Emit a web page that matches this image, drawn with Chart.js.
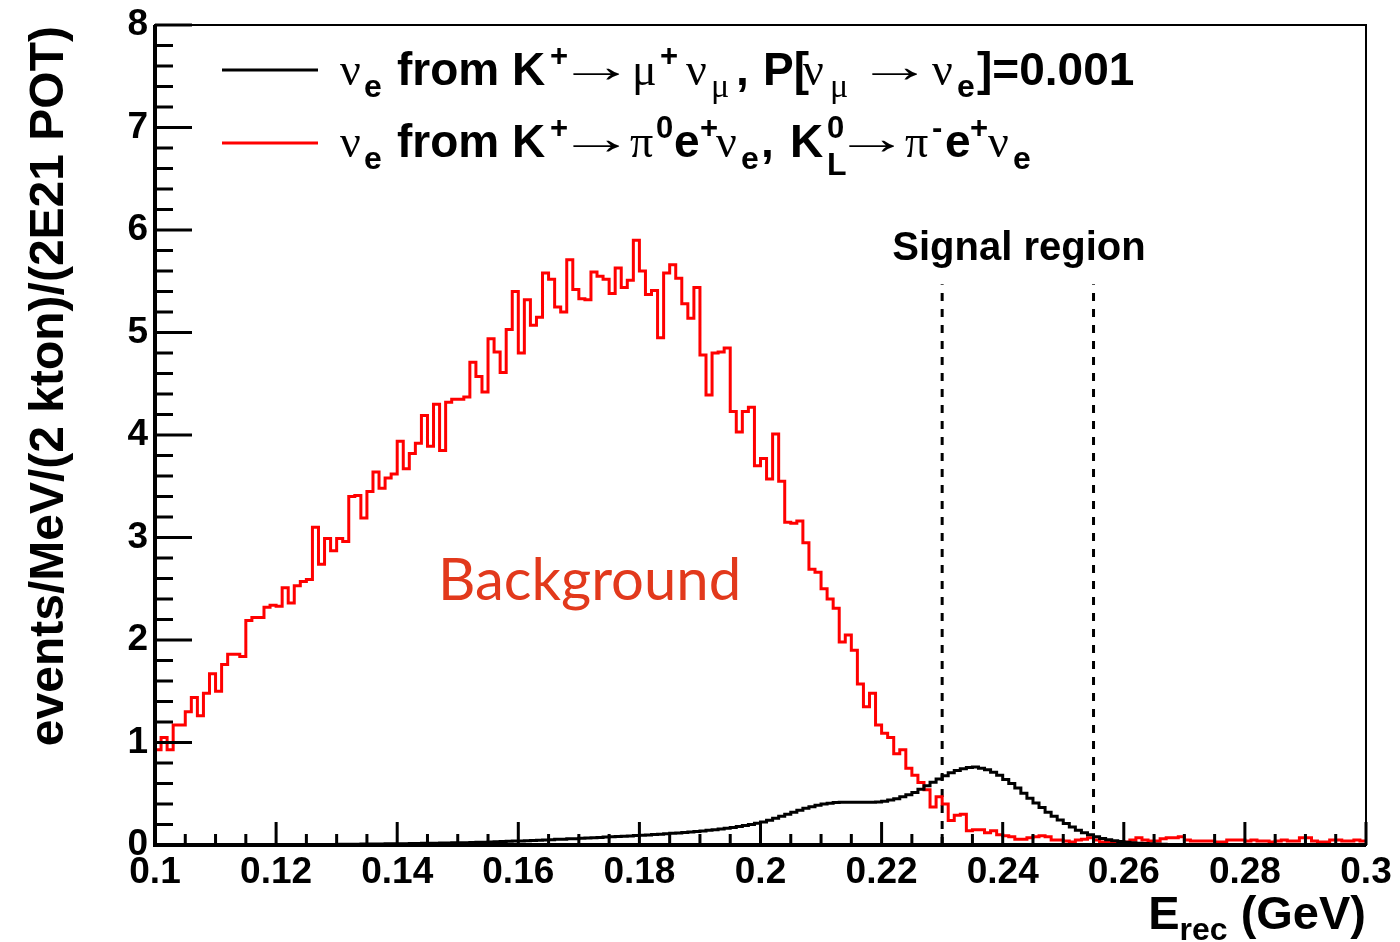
<!DOCTYPE html>
<html>
<head>
<meta charset="utf-8">
<script src="https://cdn.jsdelivr.net/npm/chart.js@4.4.0/dist/chart.umd.min.js"></script>
<style>
  html, body { margin: 0; padding: 0; background: #fff; }
</style>
</head>
<body>
<canvas id="erec" width="1400" height="942"></canvas>
<script>
// histogram binning: 1 MeV bins from 0.1 to 0.3 GeV
const binLow = 0.1;
const binWidth = 0.001;

// nu_e from K+ -> pi0 e+ nu_e, K0L -> pi- e+ nu_e (background, red)
const bkg_bins = [
  0.93, 1.05, 0.93, 1.17, 1.17, 1.30, 1.44, 1.26, 1.48, 1.67,
  1.50, 1.76, 1.86, 1.86, 1.84, 2.19, 2.22, 2.22, 2.32, 2.34,
  2.33, 2.51, 2.36, 2.53, 2.57, 2.59, 3.10, 2.74, 2.99, 2.87,
  2.99, 2.96, 3.40, 3.41, 3.19, 3.45, 3.64, 3.48, 3.58, 3.62,
  3.94, 3.67, 3.82, 3.92, 4.19, 3.89, 4.30, 3.85, 4.32, 4.35,
  4.35, 4.37, 4.71, 4.57, 4.42, 4.94, 4.81, 4.61, 5.03, 5.40,
  4.80, 5.32, 5.07, 5.15, 5.58, 5.52, 5.25, 5.20, 5.71, 5.42,
  5.33, 5.32, 5.59, 5.55, 5.52, 5.38, 5.63, 5.44, 5.51, 5.90,
  5.60, 5.37, 5.41, 4.95, 5.58, 5.66, 5.53, 5.28, 5.14, 5.44,
  4.78, 4.39, 4.80, 4.81, 4.85, 4.23, 4.03, 4.23, 4.27, 3.70,
  3.77, 3.57, 4.01, 3.55, 3.15, 3.14, 3.16, 2.95, 2.69, 2.66,
  2.50, 2.40, 2.31, 1.98, 2.05, 1.90, 1.57, 1.35, 1.48, 1.17,
  1.09, 1.05, 0.89, 0.93, 0.75, 0.68, 0.61, 0.54, 0.37, 0.47,
  0.40, 0.24, 0.29, 0.30, 0.14, 0.15, 0.15, 0.12, 0.14, 0.10,
  0.09, 0.08, 0.055, 0.055, 0.07, 0.08, 0.09, 0.08, 0.05, 0.05,
  0.04, 0.03, 0.05, 0.055, 0.07, 0.05, 0.03, 0.03, 0.03, 0.03,
  0.03, 0.05, 0.07, 0.05, 0.04, 0.04, 0.06, 0.07, 0.07, 0.08,
  0.05, 0.04, 0.04, 0.04, 0.04, 0.03, 0.03, 0.05, 0.05, 0.05,
  0.04, 0.05, 0.04, 0.04, 0.03, 0.04, 0.05, 0.04, 0.04, 0.07,
  0.07, 0.04, 0.03, 0.03, 0.05, 0.05, 0.04, 0.04, 0.05, 0.04
];

// nu_e from K+ -> mu+ nu_mu with P[numu -> nue] = 0.001 (signal, black)
const sig_bins = [
  0, 0, 0, 0, 0, 0, 0, 0, 0, 0,
  0.001, 0.001, 0.001, 0.001, 0.001, 0.002, 0.002, 0.002, 0.002, 0.003,
  0.003, 0.003, 0.004, 0.004, 0.004, 0.005, 0.005, 0.005, 0.006, 0.006,
  0.007, 0.007, 0.008, 0.008, 0.009, 0.009, 0.010, 0.010, 0.011, 0.012,
  0.012, 0.013, 0.014, 0.015, 0.016, 0.017, 0.018, 0.019, 0.020, 0.021,
  0.022, 0.023, 0.024, 0.026, 0.028, 0.030, 0.032, 0.034, 0.036, 0.038,
  0.040, 0.042, 0.045, 0.047, 0.050, 0.052, 0.055, 0.057, 0.060, 0.062,
  0.065, 0.068, 0.071, 0.074, 0.077, 0.080, 0.083, 0.086, 0.089, 0.092,
  0.095, 0.098, 0.102, 0.106, 0.110, 0.114, 0.118, 0.122, 0.127, 0.132,
  0.137, 0.143, 0.149, 0.156, 0.163, 0.171, 0.180, 0.190, 0.200, 0.212,
  0.225, 0.242, 0.260, 0.280, 0.300, 0.320, 0.340, 0.358, 0.374, 0.388,
  0.400, 0.408, 0.414, 0.417, 0.418, 0.418, 0.417, 0.416, 0.416, 0.419,
  0.428, 0.438, 0.452, 0.470, 0.490, 0.512, 0.545, 0.578, 0.612, 0.645,
  0.675, 0.705, 0.728, 0.745, 0.757, 0.760, 0.750, 0.735, 0.710, 0.680,
  0.640, 0.600, 0.555, 0.505, 0.455, 0.410, 0.365, 0.320, 0.280, 0.245,
  0.210, 0.175, 0.145, 0.120, 0.100, 0.080, 0.064, 0.052, 0.042, 0.034,
  0.027, 0.022, 0.018, 0.014, 0.011, 0.009, 0.007, 0.006, 0.005, 0.004,
  0.003, 0.003, 0.002, 0.002, 0.002, 0.001, 0.001, 0.001, 0.001, 0.001,
  0.001, 0.001, 0.001, 0.001, 0.001, 0.001, 0.001, 0.001, 0.001, 0.001,
  0, 0, 0, 0, 0, 0, 0, 0, 0, 0
];

// signal region edges (GeV) and how high the dashed markers go
const signal_edges = [0.23, 0.255];
const signal_top = 5.47;

// axis ranges and tick spacing
const x_range = [0.1, 0.3];
const y_range = [0, 8];
const x_major = 0.02, x_minor = 0.005;
const y_major = 1, y_minor = 0.2;

function histPoints(vals) {
  // one point per bin low edge, plus the upper edge of the last bin
  const pts = vals.map((v, i) => ({ x: binLow + i * binWidth, y: v }));
  pts.push({ x: binLow + vals.length * binWidth, y: vals[vals.length - 1] });
  return pts;
}

const BOLD = '"Liberation Sans", Arial, Helvetica, sans-serif';
const SERIF = '"Liberation Serif", "Times New Roman", serif';

const fB = 'bold 46px ' + BOLD;
const fG = '46px ' + SERIF;
const fSupB = 'bold 31px ' + BOLD;
const fSubB = 'bold 32px ' + BOLD;
const fSubG = '34px ' + SERIF;
const fArrow = '46px ' + SERIF;
const SUB = 12, SUP = -19;

// legend pieces placed at the x they sit at in the original
const legendLine1 = [
  { x: 340, t: '\u03BD', f: fG }, { x: 364, t: 'e', f: fSubB, dy: SUB },
  { x: 397, t: 'from K', f: fB }, { x: 550, t: '+', f: fSupB, dy: SUP },
  { x: 573, t: '\u2192', f: fArrow, w: 47, dy: -3 },
  { x: 632, t: '\u03BC', f: fG }, { x: 660, t: '+', f: fSupB, dy: SUP },
  { x: 686, t: '\u03BD', f: fG }, { x: 711, t: '\u03BC', f: fSubG, dy: SUB },
  { x: 736, t: ',', f: fB }, { x: 763, t: 'P[', f: fB },
  { x: 803, t: '\u03BD', f: fG }, { x: 830, t: '\u03BC', f: fSubG, dy: SUB },
  { x: 872, t: '\u2192', f: fArrow, w: 46, dy: -3 },
  { x: 932, t: '\u03BD', f: fG }, { x: 957, t: 'e', f: fSubB, dy: SUB },
  { x: 977, t: ']=0.001', f: fB }
];
const legendLine2 = [
  { x: 340, t: '\u03BD', f: fG }, { x: 364, t: 'e', f: fSubB, dy: SUB },
  { x: 397, t: 'from K', f: fB }, { x: 550, t: '+', f: fSupB, dy: SUP },
  { x: 573, t: '\u2192', f: fArrow, w: 47, dy: -3 },
  { x: 630, t: '\u03C0', f: fG }, { x: 656, t: '0', f: fSupB, dy: SUP },
  { x: 674, t: 'e', f: fB }, { x: 700, t: '+', f: fSupB, dy: SUP },
  { x: 716, t: '\u03BD', f: fG }, { x: 741, t: 'e', f: fSubB, dy: SUB },
  { x: 761, t: ',', f: fB }, { x: 790, t: 'K', f: fB },
  { x: 827, t: '0', f: fSupB, dy: SUP }, { x: 827, t: 'L', f: fSubB, dy: SUB + 6 },
  { x: 849, t: '\u2192', f: fArrow, w: 46, dy: -3 },
  { x: 905, t: '\u03C0', f: fG }, { x: 932, t: '-', f: fSupB, dy: SUP },
  { x: 945, t: 'e', f: fB }, { x: 970, t: '+', f: fSupB, dy: SUP },
  { x: 988, t: '\u03BD', f: fG }, { x: 1013, t: 'e', f: fSubB, dy: SUB }
];

function drawPieces(ctx, baseline, pieces) {
  pieces.forEach(p => {
    ctx.font = p.f;
    const y0 = baseline + (p.dy || 0);
    if (p.w) {
      // stretch the arrow ink to the long ROOT arrow
      const m = ctx.measureText(p.t);
      const inkL = m.actualBoundingBoxLeft || 0;
      const inkW = (m.actualBoundingBoxRight || m.width) + inkL;
      const sx = p.w / inkW;
      ctx.save();
      ctx.translate(p.x + inkL * sx, y0);
      ctx.scale(sx, 1);
      ctx.fillText(p.t, 0, 0);
      ctx.restore();
    } else {
      ctx.fillText(p.t, p.x, y0);
    }
  });
}

const rootFrame = {
  id: 'rootFrame',
  afterDatasetsDraw(chart) {
    const { ctx, chartArea: a, scales: { x, y } } = chart;
    ctx.save();
    ctx.strokeStyle = '#000';
    ctx.lineWidth = 3;
    ctx.beginPath();
    const nx = Math.round((x_range[1] - x_range[0]) / x_minor);
    for (let i = 0; i <= nx; i++) {
      const px = x.getPixelForValue(x_range[0] + i * x_minor);
      const len = (i % Math.round(x_major / x_minor) === 0) ? 23 : 11;
      ctx.moveTo(px, a.bottom);
      ctx.lineTo(px, a.bottom - len);
    }
    const ny = Math.round((y_range[1] - y_range[0]) / y_minor);
    for (let i = 0; i <= ny; i++) {
      const py = y.getPixelForValue(y_range[0] + i * y_minor);
      const len = (i % Math.round(y_major / y_minor) === 0) ? 37 : 18;
      ctx.moveTo(a.left, py);
      ctx.lineTo(a.left + len, py);
    }
    ctx.stroke();
    // frame box
    ctx.lineWidth = 2;
    ctx.strokeRect(a.left, a.top, a.right - a.left, a.bottom - a.top);
    ctx.lineWidth = 4;
    ctx.beginPath();
    ctx.moveTo(a.left, a.top);
    ctx.lineTo(a.left, a.bottom);
    ctx.lineTo(a.right, a.bottom);
    ctx.stroke();
    ctx.restore();
  },
  afterDraw(chart) {
    const { ctx, chartArea: a } = chart;
    ctx.save();
    ctx.fillStyle = '#000';
    ctx.textBaseline = 'alphabetic';
    ctx.textAlign = 'left';

    // legend
    ctx.lineWidth = 3;
    ctx.strokeStyle = '#000';
    ctx.beginPath(); ctx.moveTo(222, 70); ctx.lineTo(318, 70); ctx.stroke();
    ctx.strokeStyle = '#ff0000';
    ctx.beginPath(); ctx.moveTo(222, 143); ctx.lineTo(318, 143); ctx.stroke();
    drawPieces(ctx, 85, legendLine1);
    drawPieces(ctx, 157, legendLine2);

    // y title
    ctx.save();
    ctx.translate(63, a.top + 1);
    ctx.rotate(-Math.PI / 2);
    ctx.font = 'bold 48px ' + BOLD;
    ctx.textAlign = 'right';
    ctx.fillText('events/MeV/(2 kton)/(2E21 POT)', 0, 0);
    ctx.restore();

    // x title E_rec (GeV), right aligned to the frame
    const fT = 'bold 47px ' + BOLD, fR = 'bold 32px ' + BOLD;
    ctx.font = fT;
    const wE = ctx.measureText('E').width;
    const wG = ctx.measureText(' (GeV)').width;
    ctx.font = fR;
    const wR = ctx.measureText('rec').width;
    const tx = a.right - (wE + wR + wG);
    ctx.font = fT; ctx.fillText('E', tx, 929);
    ctx.font = fR; ctx.fillText('rec', tx + wE, 940);
    ctx.font = fT; ctx.fillText(' (GeV)', tx + wE + wR, 929);

    // annotations
    ctx.font = 'bold 40px ' + BOLD;
    ctx.textAlign = 'center';
    ctx.fillText('Signal region', 1019, 260);

    ctx.font = '58px Lato, "Open Sans", sans-serif';
    ctx.textAlign = 'left';
    ctx.fillStyle = '#e2391c';
    ctx.fillText('Background', 438, 600);
    ctx.restore();
  }
};

const ctx_erec = document.getElementById('erec').getContext('2d');
const erecChart = new Chart(ctx_erec, {
  type: 'line',
  data: {
    datasets: [{
      label: 'nu_e from K+ -> mu+ nu_mu',
      data: histPoints(sig_bins),
      borderColor: '#000000',
      borderWidth: 3,
      stepped: 'before',
      pointRadius: 0,
      fill: false
    }, {
      label: 'nu_e from K+ -> pi0 e+ nu_e, K0L -> pi- e+ nu_e',
      data: histPoints(bkg_bins),
      borderColor: '#ff0000',
      borderWidth: 3,
      stepped: 'before',
      pointRadius: 0,
      fill: false
    }, {
      label: 'signal low',
      data: [{ x: signal_edges[0], y: 0 }, { x: signal_edges[0], y: signal_top }],
      borderColor: '#000000',
      borderWidth: 3,
      borderDash: [8, 8],
      pointRadius: 0
    }, {
      label: 'signal high',
      data: [{ x: signal_edges[1], y: 0 }, { x: signal_edges[1], y: signal_top }],
      borderColor: '#000000',
      borderWidth: 3,
      borderDash: [8, 8],
      pointRadius: 0
    }]
  },
  options: {
    responsive: false,
    animation: false,
    layout: { padding: { left: 0, right: 34, top: 25, bottom: 0 } },
    plugins: { legend: { display: false }, tooltip: { enabled: false } },
    scales: {
      x: {
        type: 'linear',
        min: x_range[0],
        max: x_range[1],
        grid: { display: false, drawTicks: false },
        border: { display: false },
        ticks: {
          stepSize: x_major,
          autoSkip: false,
          maxRotation: 0,
          padding: 6,
          color: '#000',
          font: { family: BOLD, size: 37, weight: 'bold' },
          callback: v => String(+v.toFixed(2))
        },
        afterFit: s => { s.height = 97; s.paddingLeft = 0; s.paddingRight = 0; }
      },
      y: {
        min: y_range[0],
        max: y_range[1],
        grid: { display: false, drawTicks: false },
        border: { display: false },
        ticks: {
          stepSize: y_major,
          padding: 7,
          color: '#000',
          font: { family: BOLD, size: 37, weight: 'bold' }
        },
        afterFit: s => { s.width = 155; s.paddingTop = 0; s.paddingBottom = 0; }
      }
    }
  },
  plugins: [rootFrame]
});
</script>
</body>
</html>
